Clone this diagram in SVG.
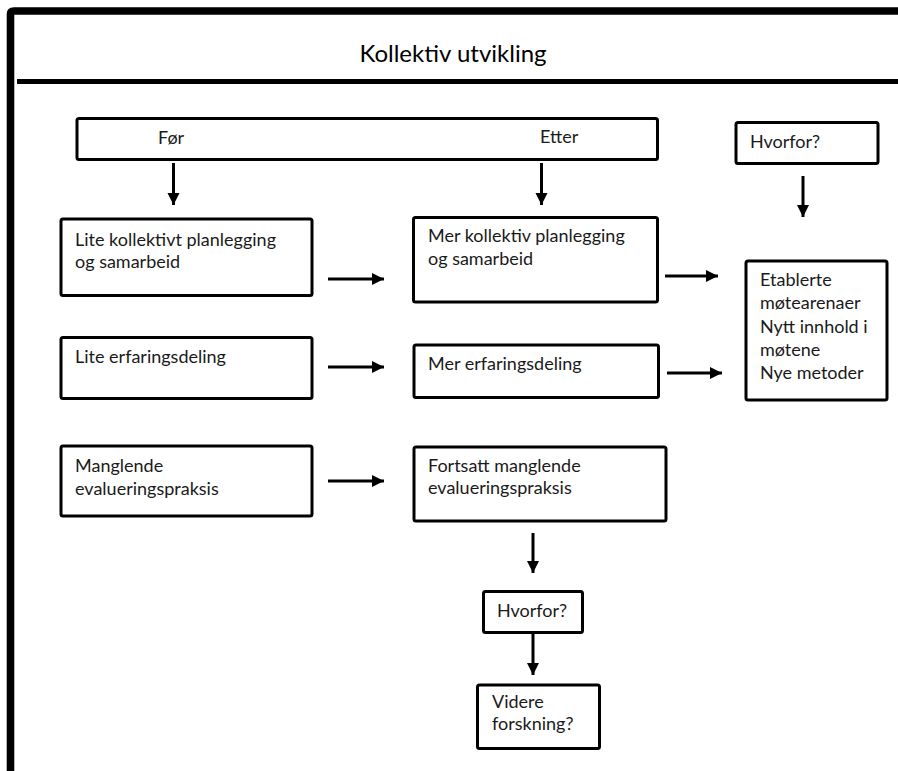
<svg xmlns="http://www.w3.org/2000/svg" width="898" height="771" viewBox="0 0 898 771">
<style>
.box{fill:#fff;stroke:#000;stroke-width:3;}
.t{font-family:Lato,"Open Sans","Liberation Sans",sans-serif;font-size:18px;fill:#1a1a1a;}
.title{font-family:Lato,"Open Sans","Liberation Sans",sans-serif;font-size:24px;fill:#000;}
.c{stroke:#000;stroke-width:3;fill:none;}
</style>
<defs>
<marker id="ah" markerUnits="userSpaceOnUse" markerWidth="13" markerHeight="13" refX="12" refY="6.5" orient="auto">
<path d="M0,0.5 L12,6.5 L0,12.5 z" fill="#000"/>
</marker>
</defs>
<rect x="0" y="0" width="898" height="771" fill="#fff"/>
<g id="frame">
<path d="M10.5,771 L10.5,14 Q10.5,11 14,11 L898,11" fill="none" stroke="#000" stroke-width="7.6"/>
<line x1="17" y1="81.5" x2="898" y2="81.5" stroke="#000" stroke-width="5"/>
<text class="title" x="453" y="62" text-anchor="middle">Kollektiv utvikling</text>
</g>
<g id="header-box">
<rect class="box" x="77" y="118.5" width="580.5" height="41" rx="2"/>
<text class="t" x="158" y="144">Før</text>
<text class="t" x="540" y="143">Etter</text>
</g>
<g id="hvorfor-top">
<rect class="box" x="736" y="122.5" width="142" height="41" rx="2"/>
<text class="t" x="750" y="148">Hvorfor?</text>
</g>
<g id="lite-kollektivt">
<rect class="box" x="61" y="219" width="251" height="76.5" rx="2"/>
<text class="t" x="75" y="246">Lite kollektivt planlegging</text>
<text class="t" x="75" y="268">og samarbeid</text>
</g>
<g id="mer-kollektiv">
<rect class="box" x="413.5" y="217.5" width="244" height="84.5" rx="2"/>
<text class="t" x="428" y="242">Mer kollektiv planlegging</text>
<text class="t" x="428" y="265">og samarbeid</text>
</g>
<g id="etablerte">
<rect class="box" x="746" y="261" width="141" height="139" rx="2"/>
<text class="t" x="760" y="286">Etablerte</text>
<text class="t" x="760" y="309">møtearenaer</text>
<text class="t" x="760" y="333">Nytt innhold i</text>
<text class="t" x="760" y="356">møtene</text>
<text class="t" x="760" y="379">Nye metoder</text>
</g>
<g id="lite-erfaring">
<rect class="box" x="61" y="337.5" width="251" height="61" rx="2"/>
<text class="t" x="75" y="363">Lite erfaringsdeling</text>
</g>
<g id="mer-erfaring">
<rect class="box" x="414" y="345" width="244.5" height="52.5" rx="2"/>
<text class="t" x="428" y="370">Mer erfaringsdeling</text>
</g>
<g id="manglende">
<rect class="box" x="61" y="446" width="251" height="70" rx="2"/>
<text class="t" x="75" y="472">Manglende</text>
<text class="t" x="75" y="495">evalueringspraksis</text>
</g>
<g id="fortsatt">
<rect class="box" x="414" y="447" width="252" height="74" rx="2"/>
<text class="t" x="428" y="472">Fortsatt manglende</text>
<text class="t" x="428" y="494">evalueringspraksis</text>
</g>
<g id="hvorfor-bottom">
<rect class="box" x="483.5" y="591.5" width="99" height="41" rx="2"/>
<text class="t" x="497" y="617">Hvorfor?</text>
</g>
<g id="videre">
<rect class="box" x="477.5" y="685" width="122" height="63.5" rx="2"/>
<text class="t" x="492" y="708">Videre</text>
<text class="t" x="492" y="730">forskning?</text>
</g>
<g id="connectors">
<line class="c" x1="173.5" y1="163" x2="173.5" y2="205" marker-end="url(#ah)"/>
<line class="c" x1="541.5" y1="163" x2="541.5" y2="205" marker-end="url(#ah)"/>
<line class="c" x1="803" y1="176" x2="803" y2="217" marker-end="url(#ah)"/>
<line class="c" x1="328" y1="279" x2="384" y2="279" marker-end="url(#ah)"/>
<line class="c" x1="665" y1="276" x2="718" y2="276" marker-end="url(#ah)"/>
<line class="c" x1="328" y1="367" x2="384" y2="367" marker-end="url(#ah)"/>
<line class="c" x1="667" y1="373" x2="722" y2="373" marker-end="url(#ah)"/>
<line class="c" x1="328" y1="481" x2="384" y2="481" marker-end="url(#ah)"/>
<line class="c" x1="533" y1="533" x2="533" y2="573" marker-end="url(#ah)"/>
<line class="c" x1="533" y1="633" x2="533" y2="675" marker-end="url(#ah)"/>
</g>
</svg>
